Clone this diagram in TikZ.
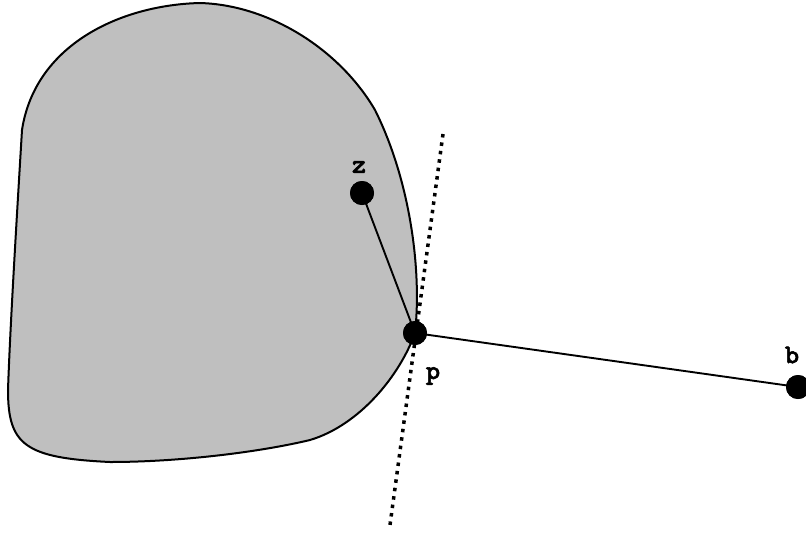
\documentclass[tikz,border=0pt]{standalone}
\usepackage{fontspec}
\newfontfamily\labfont{lmmonolt10-bold.otf}[FakeBold=2]
\tikzset{
  region/.style={fill=black!25, draw=black, line width=2pt},
  dotpt/.style={circle, fill=black, inner sep=0pt, minimum size=24pt},
  seg/.style={draw=black, line width=1.9pt},
  tangent/.style={draw=black, line width=3.5pt, dash pattern=on 3.5pt off 5pt},
  lab/.style={font=\labfont\fontsize{27pt}{30pt}\selectfont, inner sep=0pt}
}
\begin{document}
\begin{tikzpicture}[x=1pt,y=-1pt]
\useasboundingbox (0,0) rectangle (806,533);
% region
\path[region] (415,333) .. controls (422,270) and (410,180) .. (375,110)
  .. controls (340,50) and (270,5) .. (200,3)
  .. controls (120,5) and (35,45) .. (22,130)
  .. controls (16,230) and (10,330) .. (8,390)
  .. controls (8,445) and (25,458) .. (110,462)
  .. controls (180,462) and (260,452) .. (310,440)
  .. controls (360,425) and (400,375) .. cycle;
% points
\node[dotpt] (z) at (362,193) {};
\node[dotpt] (p) at (415,333) {};
\node[dotpt] (b) at (798,387) {};
\node[lab] (zl) at (359,167) {z};
\node[lab] (pl) at (433,376) {p};
\node[lab] (bl) at (792,355) {b};
% tangent line
\coordinate (t1) at (443,134);
\coordinate (t2) at (390,525);
\draw[tangent] (t1) -- (t2);
% segments
\draw[seg] (z.center) -- (p.center);
\draw[seg] (p.center) -- (b.center);
\node[dotpt] at (z) {};
\node[dotpt] at (p) {};
\node[dotpt] at (b) {};
\end{tikzpicture}
\end{document}
